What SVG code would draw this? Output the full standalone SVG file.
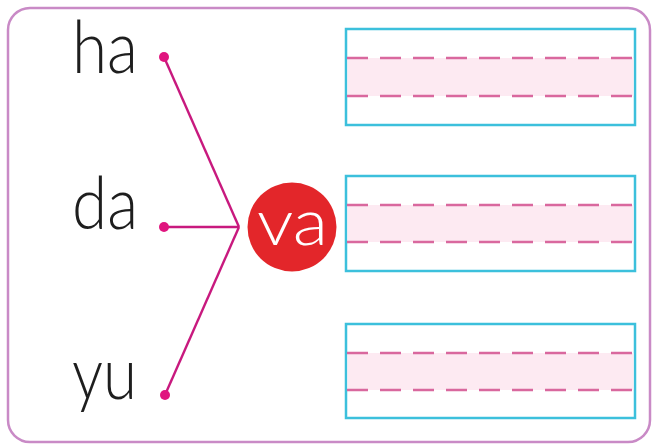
<svg xmlns="http://www.w3.org/2000/svg" width="655" height="446" viewBox="0 0 655 446">
<style>
.frame{fill:#ffffff;stroke:#c98ac6;stroke-width:2.5}
.word{font-family:"Lato","DejaVu Sans",sans-serif;font-weight:300;font-size:73px;fill:#1e1e1e}
.conn{stroke:#c8197e;stroke-width:2.4;fill:none}
.dot{fill:#e0157f}
.box{fill:#ffffff;stroke:#3cc0dc;stroke-width:2.5}
.band{fill:#fdeaf2}
.dash{stroke:#d9689e;stroke-width:2.3;stroke-dasharray:21 12}
.hub{fill:#e3262a}
.hubtxt{font-family:"Lato","DejaVu Sans",sans-serif;font-weight:300;font-size:66px;fill:#ffffff}
</style>
<rect x="0" y="0" width="655" height="446" fill="#ffffff"/>
<rect class="frame" x="8" y="8" width="642" height="434" rx="22" ry="22"/>
<g id="connectors">
<line class="conn" x1="164" y1="57" x2="239" y2="227"/>
<line class="conn" x1="164" y1="227" x2="239" y2="227"/>
<line class="conn" x1="165" y1="395" x2="239" y2="227"/>
</g>
<g id="node-ha">
<text class="word" x="72" y="73" textLength="66" lengthAdjust="spacingAndGlyphs">ha</text>
<circle class="dot" cx="164" cy="57" r="5"/>
</g>
<g id="node-da">
<text class="word" x="72" y="229" textLength="66" lengthAdjust="spacingAndGlyphs">da</text>
<circle class="dot" cx="164" cy="227" r="5"/>
</g>
<g id="node-yu">
<text class="word" x="72" y="399" textLength="65" lengthAdjust="spacingAndGlyphs">yu</text>
<circle class="dot" cx="165" cy="395" r="5"/>
</g>
<g id="node-va">
<circle class="hub" cx="292" cy="227" r="44.5"/>
<text class="hubtxt" x="257" y="245" textLength="71" lengthAdjust="spacingAndGlyphs">va</text>
</g>
<g id="box-1">
<rect class="box" x="346" y="29" width="289" height="96"/>
<rect class="band" x="347.5" y="58" width="286" height="38"/>
<line class="dash" x1="347" y1="58" x2="634" y2="58"/>
<line class="dash" x1="347" y1="96" x2="634" y2="96"/>
</g>
<g id="box-2">
<rect class="box" x="346" y="176" width="289" height="95"/>
<rect class="band" x="347.5" y="205" width="286" height="37"/>
<line class="dash" x1="347" y1="205" x2="634" y2="205"/>
<line class="dash" x1="347" y1="242" x2="634" y2="242"/>
</g>
<g id="box-3">
<rect class="box" x="346" y="324" width="289" height="94"/>
<rect class="band" x="347.5" y="353" width="286" height="37"/>
<line class="dash" x1="347" y1="353" x2="634" y2="353"/>
<line class="dash" x1="347" y1="390" x2="634" y2="390"/>
</g>
</svg>
